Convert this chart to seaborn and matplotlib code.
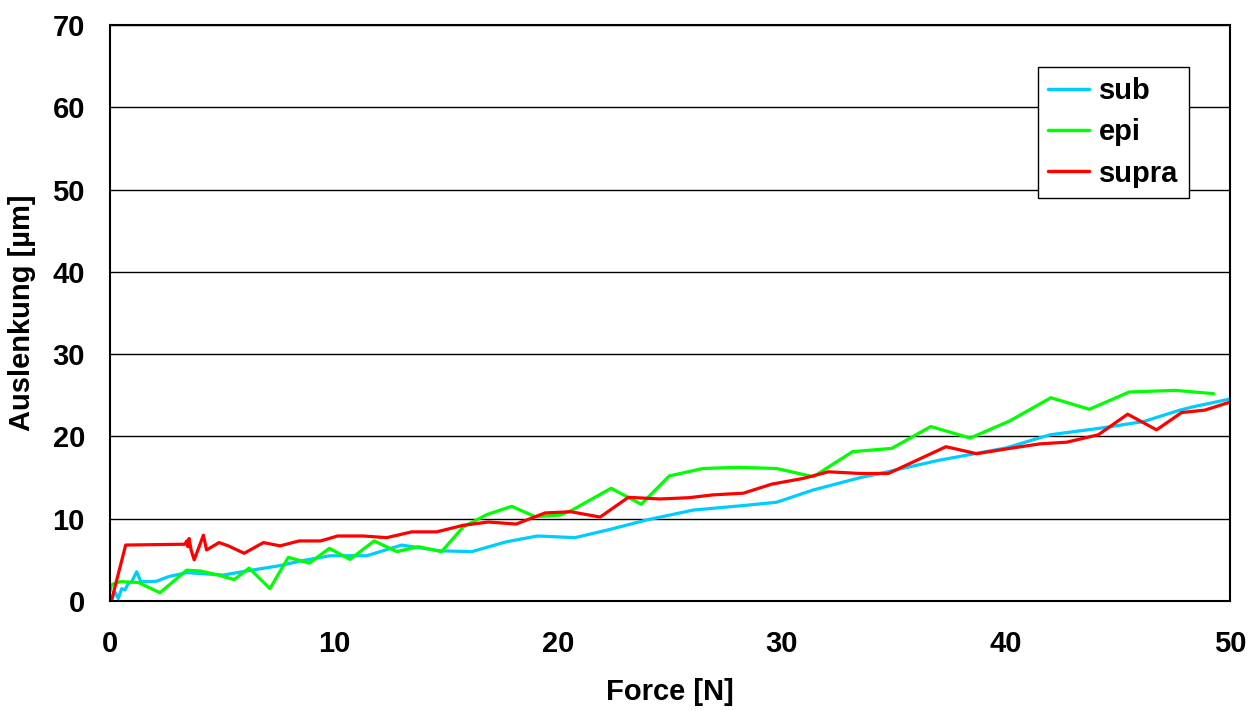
import matplotlib
matplotlib.use("Agg")
import matplotlib.pyplot as plt
import seaborn as sns
import pandas as pd

# ---- data ----
sub_x = [0.07, 0.22, 0.37, 0.52, 0.67, 0.82, 0.97, 1.19, 1.38, 1.64, 2.08, 2.6, 3.42, 5.06, 6.1,
         7.59, 8.48, 9.82, 11.46, 13.02, 14.73, 16.15, 17.7, 19.08, 20.76, 22.32, 23.96, 26.04,
         28.27, 29.76, 31.4, 33.5, 34.38, 37.0, 40.0, 41.96, 44.2, 46.13, 47.77, 48.35, 49.92]
sub_y = [0.1, 1.1, 0.3, 1.5, 1.35, 2.15, 2.35, 3.55, 2.35, 2.35, 2.4, 2.95, 3.45, 3.15, 3.65,
         4.3, 4.85, 5.5, 5.5, 6.8, 6.1, 6.0, 7.2, 7.9, 7.7, 8.7, 9.85, 11.05,
         11.6, 12.0, 13.5, 15.0, 15.5, 17.1, 18.6, 20.2, 21.0, 21.8, 23.2, 23.6, 24.5]

epi_x = [0.0, 0.07, 0.45, 1.26, 2.23, 3.42, 4.02, 4.84, 5.54, 6.21, 7.14, 7.96, 8.9, 9.79, 10.71,
         11.79, 12.8, 13.76, 14.8, 15.77, 16.82, 17.93, 18.97, 20.09, 20.6, 22.37, 23.71, 24.97,
         26.46, 28.05, 29.76, 31.4, 33.15, 34.9, 36.64, 38.4, 40.18, 42.0, 43.72, 45.5, 47.54, 49.26]
epi_y = [1.2, 2.0, 2.35, 2.25, 1.0, 3.75, 3.65, 3.15, 2.6, 4.0, 1.5, 5.3, 4.6, 6.4, 5.05,
         7.3, 6.0, 6.6, 6.0, 9.0, 10.5, 11.5, 10.25, 10.45, 11.0, 13.7, 11.75, 15.2,
         16.1, 16.25, 16.1, 15.1, 18.15, 18.55, 21.2, 19.8, 21.9, 24.7, 23.3, 25.4, 25.6, 25.2]

supra_x = [0.07, 0.7, 3.35, 3.42, 3.48, 3.53, 3.62, 3.76, 4.17, 4.31, 4.87, 5.28, 5.99, 6.85, 7.59,
           8.44, 9.4, 10.16, 11.3, 12.35, 13.47, 14.58, 15.77, 16.89, 18.13, 19.42, 20.57, 21.88,
           23.14, 24.55, 25.82, 26.93, 28.27, 29.54, 30.95, 32.07, 33.48, 34.75, 37.32, 38.69,
           40.18, 41.52, 42.71, 44.12, 45.43, 46.72, 47.84, 48.88, 49.92]
supra_y = [0.1, 6.8, 6.9, 7.3, 6.6, 7.6, 6.2, 5.0, 8.0, 6.2, 7.1, 6.7, 5.8, 7.1, 6.7,
           7.3, 7.3, 7.9, 7.9, 7.7, 8.4, 8.4, 9.2, 9.6, 9.35, 10.7, 10.85, 10.2,
           12.6, 12.4, 12.55, 12.9, 13.1, 14.2, 14.9, 15.7, 15.5, 15.5, 18.75, 17.9,
           18.55, 19.1, 19.3, 20.2, 22.7, 20.8, 22.9, 23.2, 24.1]

series_names = ["sub", "epi", "supra"]
x_ticks = [0, 10, 20, 30, 40, 50]
y_ticks = [0, 10, 20, 30, 40, 50, 60, 70]

frames = []
for name, xs, ys in zip(series_names, [sub_x, epi_x, supra_x], [sub_y, epi_y, supra_y]):
    d = pd.DataFrame({"Force": xs, "Auslenkung": ys, "series": name})
    frames.append(d)
df = pd.concat(frames, ignore_index=True)

sns.set_theme(style="white")
plt.rcParams["font.family"] = ["Liberation Sans", "DejaVu Sans"]
plt.rcParams["font.weight"] = "bold"
plt.rcParams["text.color"] = "black"
plt.rcParams["axes.labelcolor"] = "black"
plt.rcParams["xtick.color"] = "black"
plt.rcParams["ytick.color"] = "black"

FS = 21

fig = plt.figure(figsize=(12.58, 7.11), dpi=100)
ax = fig.add_axes([110 / 1258, 1 - 601 / 711, 1120 / 1258, 576 / 711])

palette = {"sub": "#00CCFF", "epi": "#00FF00", "supra": "#FF0000"}
sns.lineplot(data=df, x="Force", y="Auslenkung", hue="series", hue_order=series_names,
             palette=palette, sort=False, estimator=None, linewidth=2.3, ax=ax)

ax.set_xlim(0, 50)
ax.set_ylim(0, 70)
ax.set_xticks(x_ticks)
ax.set_yticks(y_ticks)
ax.set_xticklabels([str(t) for t in x_ticks], fontsize=FS, fontweight="bold", color="black")
ax.set_yticklabels([str(t) for t in y_ticks], fontsize=FS, fontweight="bold", color="black")
ax.tick_params(axis="both", direction="out", length=7, width=1.3, color="black")
ax.tick_params(axis="x", pad=14)
ax.tick_params(axis="y", pad=11)

ax.yaxis.grid(True, color="black", linewidth=1.0)
ax.xaxis.grid(False)
ax.set_axisbelow(True)
for s in ax.spines.values():
    s.set_visible(True)
    s.set_color("black")
    s.set_linewidth(1.5)

ax.set_xlabel("Force [N]", fontsize=FS, fontweight="bold", color="black")
ax.set_ylabel("Auslenkung [µm]", fontsize=FS, fontweight="bold", color="black")
ax.xaxis.set_label_coords(0.5, -0.158)
ax.xaxis.label.set_va("center")
ax.yaxis.set_label_coords(-0.0786, 0.5)
ax.yaxis.label.set_va("center")

leg = ax.legend(loc="upper left", bbox_to_anchor=(0.8286, 0.927), borderaxespad=0,
                frameon=True, fancybox=False, edgecolor="black", framealpha=1,
                handlelength=1.4, labelspacing=0.45, borderpad=0.35, handletextpad=0.35,
                prop={"size": FS, "weight": "bold"})
leg.get_frame().set_linewidth(1.0)
for t in leg.get_texts():
    t.set_color("black")
for line in leg.get_lines():
    line.set_linewidth(2.5)

fig.savefig("out.png", dpi=100)
